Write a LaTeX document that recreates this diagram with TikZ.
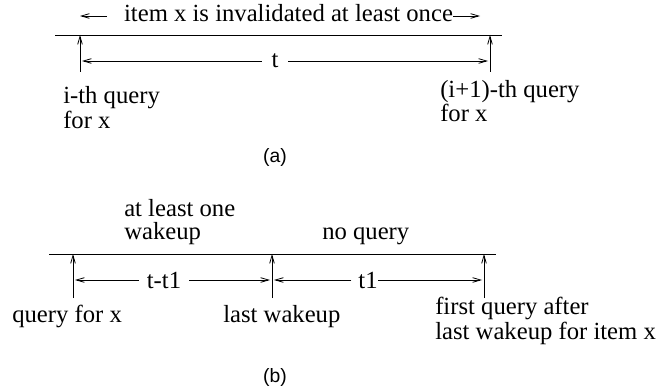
\documentclass[tikz,border=0pt]{standalone}
\usepackage{fontspec}
\setmainfont{Liberation Serif}
\newfontfamily\capsans{Liberation Sans}
\usetikzlibrary{arrows.meta}
\begin{document}
\begin{tikzpicture}[x=0.75pt, y=-0.75pt,
  txt/.style={font=\fontsize{18.5}{17}\selectfont, inner sep=0pt, align=left, anchor=base west},
  subcap/.style={font=\capsans\fontsize{14.5}{16}\selectfont, inner sep=0pt},
  dim/.style={-{Straight Barb[length=6pt,width=3.5pt]}, line width=0.6pt},
  tickarr/.style={-{Straight Barb[length=6pt,width=3.5pt]}, line width=0.6pt}]

  \useasboundingbox (0,0) rectangle (663,392);

  % Panel (a)
  \draw[line width=0.7pt] (55,35) -- (502,35);

  % Ticks (a)
  \foreach \nm/\x in {qi/80, qn/490} {
    \coordinate (\nm-top) at (\x,35);
    \coordinate (\nm) at (\x,72);
    \draw[tickarr] (\nm) -- (\nm-top);
  }

  % Top label with arrows
  \node[txt, anchor=base] (inval) at (288.5,22) {item x is invalidated at least once};
  \coordinate (invl) at (80,16);
  \coordinate (invlb) at (107,16);
  \coordinate (invr) at (480,16);
  \draw[dim] (invlb) -- (invl);
  \draw[dim] (inval.east |- invr) -- (invr);

  % Interval t
  \node[txt, anchor=center, inner xsep=7pt] (tlen) at (275,61) {t};
  \draw[dim, shorten >=1.5pt] (tlen.west) -- (qi |- tlen);
  \draw[dim, shorten >=1.5pt] (tlen.east) -- (qn |- tlen);

  % Labels (a) (base = last line)
  \node[txt] (qiL) at (63,128) {i-th query\\for x};
  \node[txt] (qnL) at (440,122) {(i+1)-th query\\for x};
  \node[subcap] (capa) at (275,157) {(a)};

  % Panel (b)
  \draw[line width=0.7pt] (49,254) -- (496,254);

  % Ticks (b)
  \foreach \nm/\x in {qx/73, lw/272, fq/484} {
    \coordinate (\nm-top) at (\x,254);
    \coordinate (\nm) at (\x,298);
    \draw[tickarr] (\nm) -- (\nm-top);
  }

  % Intervals t-t1 and t1
  \node[txt, anchor=center, inner xsep=6pt] (tdiff) at (164,280) {t-t1};
  \draw[dim, shorten >=1.5pt] (tdiff.west) -- (qx |- tdiff);
  \draw[dim, shorten >=1.5pt] (tdiff.east) -- (lw |- tdiff);
  \node[txt, anchor=center] (tone) at (368,280) {t1};
  \draw[dim, shorten <=5pt, shorten >=1.5pt] (tone.west) -- (lw |- tone);
  \draw[dim, shorten >=1.5pt] (tone.east) -- (fq |- tone);

  % Labels (b)
  \node[txt] (wake) at (124,239) {at least one\\wakeup};
  \node[txt] (noq) at (322,239) {no query};
  \node[txt] (qxL) at (12,322) {query for x};
  \node[txt] (lwL) at (223,322) {last wakeup};
  \node[txt] (fqL) at (435,339) {first query after\\last wakeup for item x};
  \node[subcap] (capb) at (275,377) {(b)};
\end{tikzpicture}
\end{document}
